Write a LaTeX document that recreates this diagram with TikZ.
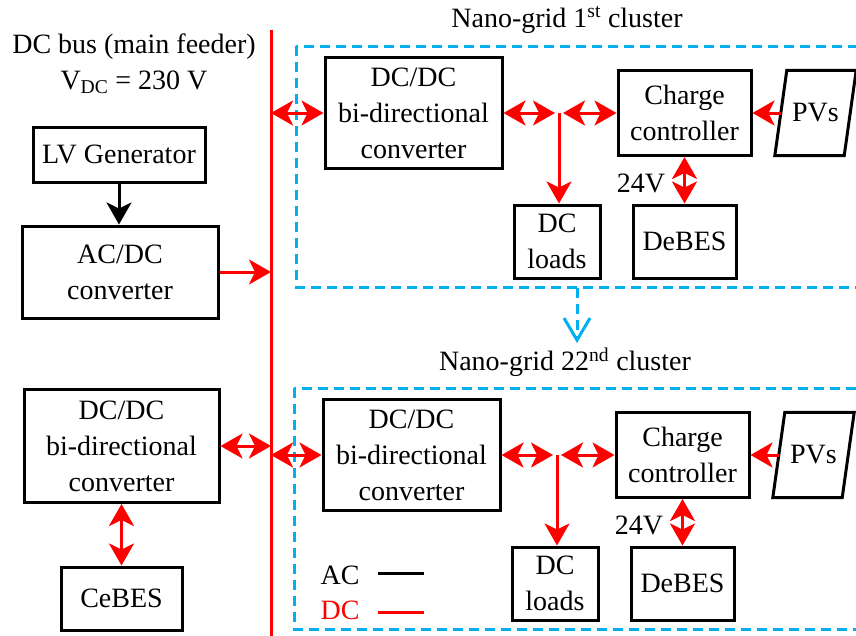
\documentclass[tikz,border=0pt]{standalone}
\usepackage{fontspec}
\setmainfont{Liberation Serif}
\usetikzlibrary{arrows.meta,calc}
\definecolor{dcred}{RGB}{255,0,0}
\definecolor{ngcyan}{RGB}{0,176,240}
\tikzset{
  box/.style={draw=black, line width=3pt, rectangle, inner sep=0pt, align=center, font=\fontsize{28}{36}\selectfont},
  lbl/.style={inner sep=0pt, align=center, font=\fontsize{28}{36}\selectfont},
  dcline/.style={draw=dcred, line width=3pt},
  tipA/.tip={Stealth[length=22pt,width=25pt,inset=6pt]},
  dcarr/.style={dcline, -tipA},
  dcbi/.style={dcline, tipA-tipA},
  acarr/.style={draw=black, line width=3pt, -tipA},
  cluster/.style={draw=ngcyan, line width=3pt, dash pattern=on 10pt off 6pt},
}
\newcommand\ngcluster[4]{%
\begin{scope}[shift={(#2,#3)}]
  \draw[cluster] (296,46) rectangle (880,287);
  \node[lbl] (#1title) at (567,20) {#4};
  \node[box, minimum width=177pt, minimum height=111pt] (#1dcdc) at (413.5,113) {DC/DC\\bi-directional\\converter};
  \node[box, minimum width=133pt, minimum height=85pt] (#1cc) at (684.5,113) {Charge\\controller};
  \node[lbl, minimum width=69pt, minimum height=85pt] (#1pv) at (815.5,113) {PVs};
  \draw[line width=3pt, line join=miter] ($(#1pv.south west)+(-6,0)$) -- ($(#1pv.north west)+(6,0)$) -- ($(#1pv.north east)+(6,0)$) -- ($(#1pv.south east)+(-6,0)$) -- cycle;
  \node[box, minimum width=86pt, minimum height=73pt] (#1dcl) at (557,241.5) {DC\\loads};
  \node[box, minimum width=103pt, minimum height=73pt] (#1debes) at (684.5,241.5) {DeBES};
  \node[lbl] (#1v24) at (641,183) {24V};
  \coordinate (#1j) at (559,113);
  \draw[dcbi] (#1dcdc.west -| bustop) -- (#1dcdc.west);
  \draw[dcbi] (#1dcdc.east) -- ($(#1j)+(-4,0)$);
  \draw[dcbi] ($(#1j)+(4,0)$) -- (#1cc.west);
  \draw[dcarr] (#1j) -- (#1j |- #1dcl.north);
  \draw[dcarr] (#1pv.west) -- (#1cc.east);
  \draw[dcbi] (#1cc.south) -- (#1debes.north);
\end{scope}}
\begin{document}
\begin{tikzpicture}[x=1pt,y=-1pt]
\useasboundingbox (0,0) rectangle (856,635);
\fill[white] (0,0) rectangle (856,635);
\coordinate (bustop) at (271,30);
\coordinate (busbot) at (271,640);
\draw[dcline] (bustop) -- (busbot);
\node[lbl] (title1) at (134,47) {DC bus (main feeder)};
\node[lbl] (title2) at (134,82) {V\textsubscript{DC} = 230 V};
\node[box, minimum width=172pt, minimum height=55pt] (gen) at (119,154.5) {LV Generator};
\node[box, minimum width=196pt, minimum height=92pt] (acdc) at (120,272) {AC/DC\\converter};
\draw[acarr] (gen.south) -- (gen.south |- acdc.north);
\draw[dcarr] (acdc.east) -- (acdc.east -| bustop);
\node[box, minimum width=195pt, minimum height=113pt] (dcdcL) at (121.5,446) {DC/DC\\bi-directional\\converter};
\node[box, minimum width=121pt, minimum height=63pt] (cebes) at (121.5,598.5) {CeBES};
\draw[dcbi] (dcdcL.east) -- (dcdcL.east -| bustop);
\draw[dcbi] (dcdcL.south) -- (cebes.north);
\ngcluster{a}{0}{0}{Nano-grid 1\textsuperscript{st} cluster}
\ngcluster{b}{-2}{342}{Nano-grid 22\textsuperscript{nd} cluster}
\coordinate (darrS) at (577,288);
\coordinate (darrE) at (577,343);
\draw[ngcyan, line width=3pt, dash pattern=on 10pt off 6pt, -{Straight Barb[length=22pt,width=26pt]}] (darrS) -- (darrE);
\node[lbl] (legac) at (340,575) {AC};
\node[lbl, text=dcred] (legdc) at (340,610) {DC};
\coordinate (acl1) at (378,573); \coordinate (acl2) at (424,573);
\coordinate (dcl1) at (378,612); \coordinate (dcl2) at (424,612);
\draw[black, line width=3pt] (acl1) -- (acl2);
\draw[dcred, line width=3pt] (dcl1) -- (dcl2);
\end{tikzpicture}
\end{document}
